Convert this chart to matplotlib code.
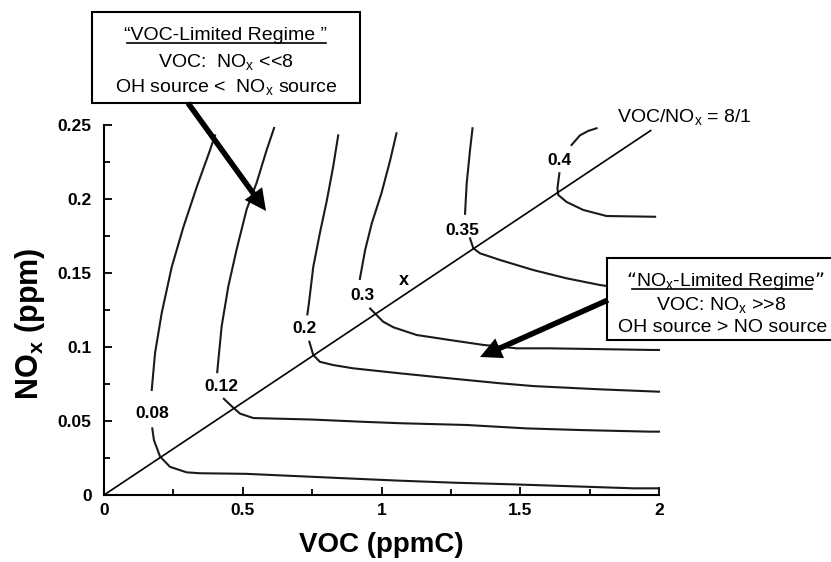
import matplotlib
matplotlib.use("Agg")
import matplotlib.pyplot as plt
import numpy as np
from matplotlib.patches import Rectangle, FancyArrowPatch
from matplotlib.lines import Line2D

plt.rcParams['font.family'] = ['Liberation Sans', 'DejaVu Sans']
plt.rcParams['mathtext.default'] = 'regular'

W, H = 831, 562

# ---- data: ozone isopleths (VOC ppmC, NOx ppm), upper and lower branches
iso_levels = ["0.08", "0.12", "0.2", "0.3", "0.35", "0.4"]

voc_008_up = [0.40, 0.382, 0.334, 0.286, 0.244, 0.208, 0.184, 0.172]
nox_008_up = [0.243, 0.233, 0.208, 0.181, 0.154, 0.123, 0.096, 0.071]
voc_008_lo = [0.174, 0.180, 0.202, 0.238, 0.298, 0.346, 0.512, 0.690, 0.868, 1.062, 1.264, 1.474, 1.684, 1.911, 2.0]
nox_008_lo = [0.045, 0.037, 0.026, 0.019, 0.0153, 0.0147, 0.0143, 0.0128, 0.0113, 0.0097, 0.0083, 0.0072, 0.0059, 0.0045, 0.0045]

voc_012_up = [0.613, 0.586, 0.550, 0.514, 0.478, 0.448, 0.424, 0.412, 0.408]
nox_012_up = [0.248, 0.233, 0.211, 0.193, 0.166, 0.141, 0.114, 0.091, 0.083]
voc_012_lo = [0.432, 0.460, 0.490, 0.538, 0.748, 0.929, 1.067, 1.307, 1.523, 1.715, 1.968, 2.0]
nox_012_lo = [0.065, 0.060, 0.055, 0.052, 0.051, 0.0495, 0.0485, 0.0473, 0.045, 0.0439, 0.0428, 0.0428]

voc_020_up = [0.844, 0.826, 0.803, 0.778, 0.754, 0.740, 0.733]
nox_020_up = [0.243, 0.222, 0.199, 0.177, 0.154, 0.132, 0.122]
voc_020_lo = [0.740, 0.754, 0.778, 0.826, 0.898, 1.067, 1.247, 1.427, 1.547, 1.787, 2.0]
nox_020_lo = [0.1036, 0.0946, 0.090, 0.0878, 0.0856, 0.0822, 0.0788, 0.0755, 0.0736, 0.0714, 0.0698]

voc_030_up = [1.054, 1.031, 1.0, 0.965, 0.941, 0.922]
nox_030_up = [0.2444, 0.226, 0.204, 0.1836, 0.1655, 0.146]
voc_030_lo = [0.959, 0.970, 1.006, 1.043, 1.127, 1.247, 1.367, 1.487, 1.607, 1.974, 2.0]
nox_030_lo = [0.126, 0.1239, 0.1171, 0.1133, 0.1081, 0.1047, 0.1014, 0.0991, 0.0991, 0.098, 0.098]

voc_035_up = [1.328, 1.319, 1.307, 1.301]
nox_035_up = [0.2478, 0.233, 0.2106, 0.190]
voc_035_lo = [1.319, 1.331, 1.355, 1.427, 1.547, 1.667, 1.787, 2.0]
nox_035_lo = [0.1734, 0.1667, 0.1633, 0.1588, 0.152, 0.1464, 0.1419, 0.136]

voc_040_up = [1.685, 1.715, 1.745, 1.775]
nox_040_up = [0.2365, 0.243, 0.246, 0.2478]
voc_040_lo = [1.641, 1.634, 1.637, 1.667, 1.727, 1.811, 1.986]
nox_040_lo = [0.2174, 0.2072, 0.2027, 0.198, 0.1926, 0.1885, 0.188]

# isopleth label positions (VOC, NOx)
label_voc = [0.173, 0.422, 0.724, 0.933, 1.290, 1.643]
label_nox = [0.0554, 0.0736, 0.1128, 0.135, 0.179, 0.226]

ratio = 8.0
ratio_voc_end = 1.97

x_ticks = [0, 0.5, 1, 1.5, 2]
x_ticklabels = ["0", "0.5", "1", "1.5", "2"]
y_ticks = [0, 0.05, 0.1, 0.15, 0.2, 0.25]
y_ticklabels = ["0", "0.05", "0.1", "0.15", "0.2", "0.25"]

# ---- figure
fig = plt.figure(figsize=(W / 100, H / 100), dpi=100)
ax = fig.add_axes([104 / W, 1 - 495 / H, 555 / W, 370 / H])
ax.set_xlim(0, 2)
ax.set_ylim(0, 0.25)
for s in ("top", "right"):
    ax.spines[s].set_visible(False)
for s in ("left", "bottom"):
    ax.spines[s].set_linewidth(1.5)

ax.set_xticks(x_ticks)
ax.set_xticklabels(x_ticklabels, fontweight="bold", fontsize=12.5)
ax.set_yticks(y_ticks)
ax.set_yticklabels(y_ticklabels, fontweight="bold", fontsize=12.5)
ax.set_xticks(np.arange(0.25, 2.0, 0.5), minor=True)
ax.set_yticks(np.arange(0.025, 0.25, 0.05), minor=True)
ax.tick_params(which="major", direction="in", length=6, width=1.3)
ax.tick_params(which="minor", direction="in", length=4, width=1.3)
ax.tick_params(axis="x", which="major", pad=6)
ax.tick_params(axis="y", which="major", pad=9)

ax.set_xlabel("VOC (ppmC)", fontsize=20, fontweight="bold", labelpad=10)
ax.set_ylabel("NO$_{x}$ (ppm)", fontsize=22, fontweight="bold")
ax.yaxis.set_label_coords((47 - 104) / 555, (495 - 324) / 370)

branches = [
    (voc_008_up, nox_008_up), (voc_008_lo, nox_008_lo),
    (voc_012_up, nox_012_up), (voc_012_lo, nox_012_lo),
    (voc_020_up, nox_020_up), (voc_020_lo, nox_020_lo),
    (voc_030_up, nox_030_up), (voc_030_lo, nox_030_lo),
    (voc_035_up, nox_035_up), (voc_035_lo, nox_035_lo),
    (voc_040_up, nox_040_up), (voc_040_lo, nox_040_lo),
]
for vx, ny in branches:
    ax.plot(vx, ny, color="#1a1a1a", lw=1.5, zorder=2, clip_on=False)

for lab, lx, ly in zip(iso_levels, label_voc, label_nox):
    ax.text(lx, ly, lab, fontsize=12.5, fontweight="bold", ha="center", va="center")

ax.text(1.081, 0.145, "x", fontsize=13, fontweight="bold", ha="center", va="center")

rv = np.array([0.0, ratio_voc_end])
ax.plot(rv, rv / ratio, color="black", lw=1.2, zorder=3, clip_on=False)

# ratio label
fig.text(617 / W, 1 - 117 / H, "VOC/NO$_{x}$ = 8/1", fontsize=14, ha="left", va="center")

# ---- boxes
def fx(px):
    return px / W

def fy(py):
    return 1 - py / H

box1 = Rectangle((fx(92), fy(103)), (360 - 92) / W, (103 - 12) / H, transform=fig.transFigure,
                 facecolor="white", edgecolor="black", lw=1.5, zorder=5)
fig.add_artist(box1)
box2 = Rectangle((fx(607), fy(340)), (850 - 607) / W, (340 - 258) / H, transform=fig.transFigure,
                 facecolor="white", edgecolor="black", lw=1.5, zorder=5)
fig.add_artist(box2)

t1 = fig.text(fx(226), fy(35), "\u201cVOC-Limited Regime \u201d", fontsize=14, ha="center", va="center", zorder=6)
fig.text(fx(226), fy(62), "VOC:  NO$_{x}$ <<8", fontsize=14, ha="center", va="center", zorder=6)
fig.text(fx(226), fy(87), "OH source <  NO$_{x}$ source", fontsize=14, ha="center", va="center", zorder=6)

t2 = fig.text(fx(726), fy(281), "\u201cNO$_{x}$-Limited Regime\u201d", fontsize=14, ha="center", va="center", zorder=6)
fig.text(fx(721), fy(305), "VOC: NO$_{x}$ >>8", fontsize=14, ha="center", va="center", zorder=6)
fig.text(fx(723), fy(328), "OH source > NO source", fontsize=14, ha="center", va="center", zorder=6)

fig.canvas.draw()
r = fig.canvas.get_renderer()
bb1 = t1.get_window_extent(r)
fig.add_artist(Line2D([(bb1.x0 + 2) / W, (bb1.x1 - 2) / W], [fy(43), fy(43)],
                      transform=fig.transFigure, color="black", lw=1.2, zorder=7))
bb2 = t2.get_window_extent(r)
fig.add_artist(Line2D([(bb2.x0 + 6) / W, (bb2.x1 - 14) / W], [fy(289), fy(289)],
                      transform=fig.transFigure, color="black", lw=1.2, zorder=7))

# ---- arrows
for (x0, y0), (x1, y1) in [((188, 103), (266, 211)), ((608, 300), (480, 357))]:
    arr = FancyArrowPatch((fx(x0), fy(y0)), (fx(x1), fy(y1)), transform=fig.transFigure,
                          arrowstyle="-|>,head_length=9,head_width=4.5", mutation_scale=1,
                          lw=4, color="black", shrinkA=0, shrinkB=0, zorder=8,
                          joinstyle="miter", capstyle="butt")
    fig.add_artist(arr)

fig.savefig("out.png", dpi=100, facecolor="white")
